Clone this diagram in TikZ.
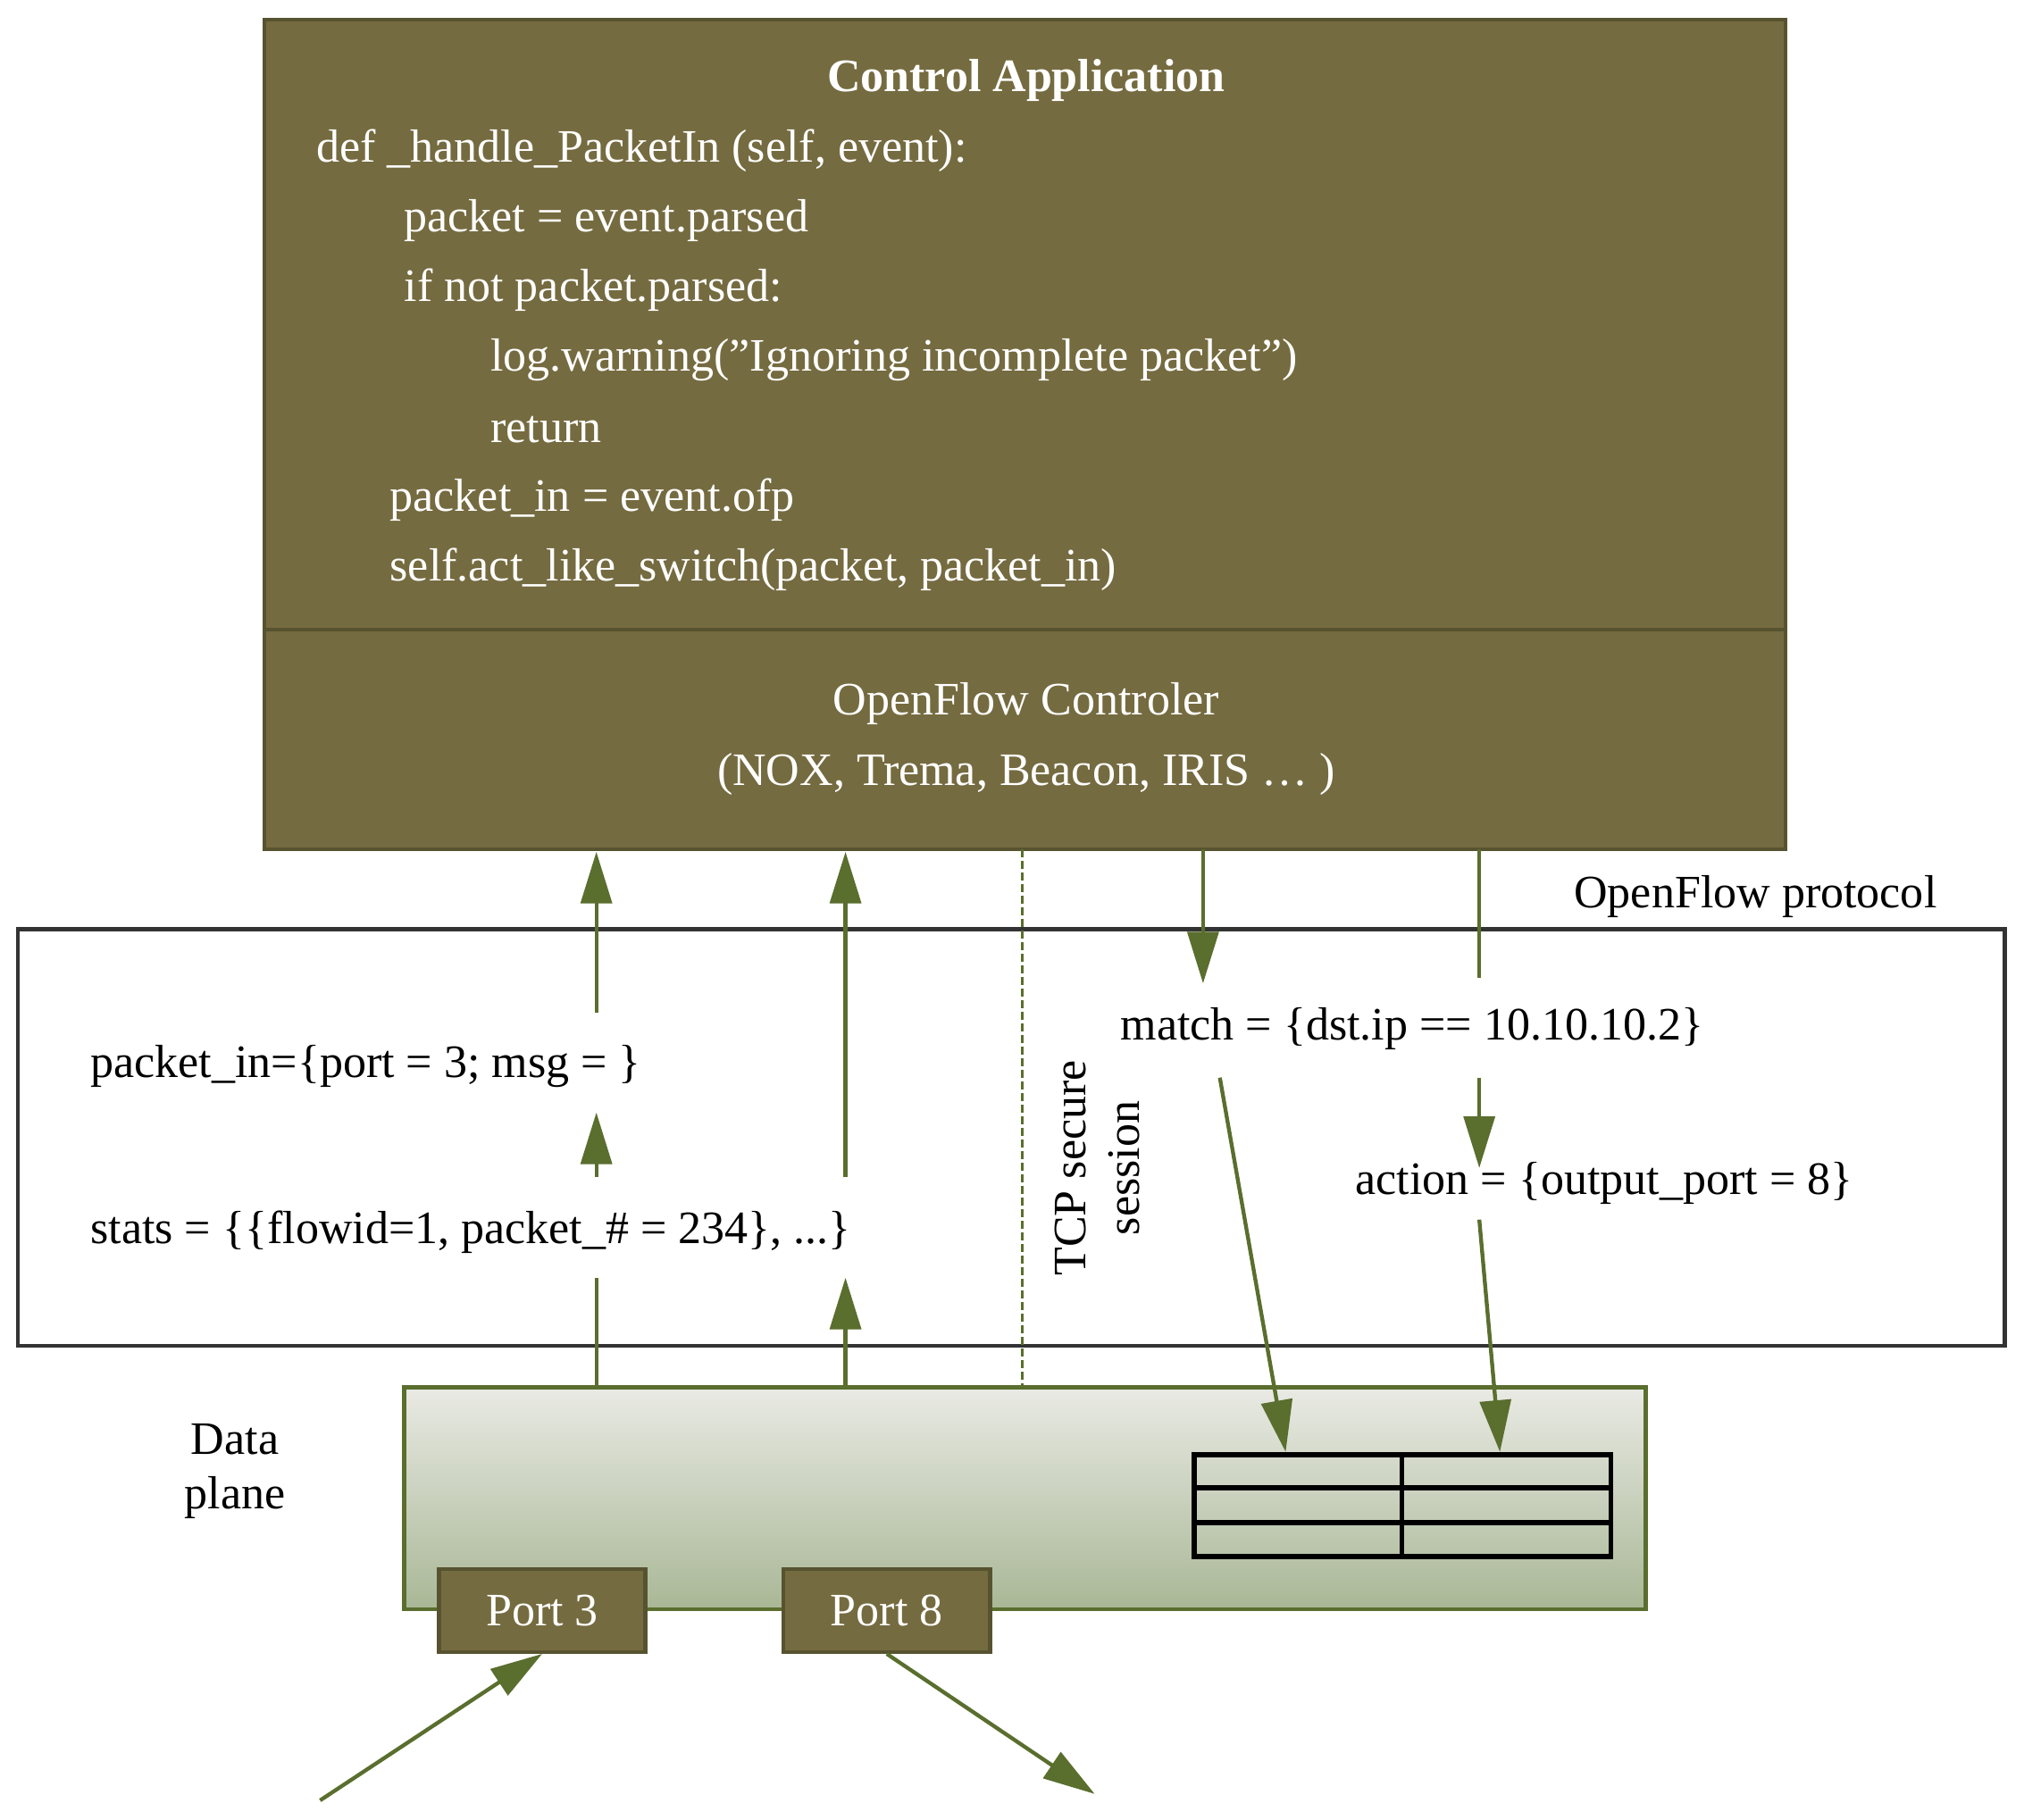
\documentclass[tikz,border=0pt]{standalone}
\usepackage{fontspec}
\setmainfont{Liberation Serif}
\usetikzlibrary{arrows.meta}
\definecolor{ctrl}{HTML}{756B40}
\definecolor{ctrlb}{HTML}{575330}
\definecolor{grn}{HTML}{5A6E2E}
\definecolor{dpTop}{HTML}{E9EAE4}
\definecolor{dpBot}{HTML}{A9B796}
\begin{document}
\begin{tikzpicture}[x=1pt,y=-1pt,
  txt/.style={font=\fontsize{36}{42}\selectfont,inner sep=0pt},
  wtxt/.style={txt,text=white},
  code/.style={wtxt,anchor=west},
  arr/.style={grn,line width=3pt,-{Triangle[length=40pt,width=24pt]}},
  ln/.style={grn,line width=3pt},
  port/.style={draw=ctrlb,fill=ctrl,line width=3pt,minimum width=160pt,minimum height=64pt,wtxt}]
\useasboundingbox (0,0) rectangle (1568,1410);
% control box
\draw[ctrlb,fill=ctrl,line width=3pt] (205,15) rectangle (1383,658);
\draw[ctrlb,line width=3pt] (205,488) -- (1383,488);
\node[wtxt,font=\fontsize{36}{42}\selectfont\bfseries] (title) at (795,62) {Control Application};
\node[code] (c1) at (245,117) {def \_handle\_PacketIn (self, event):};
\node[code] (c2) at (313,171) {packet = event.parsed};
\node[code] (c3) at (313,225) {if not packet.parsed:};
\node[code] (c4) at (380,279) {log.warning("Ignoring incomplete packet")};
\node[code] (c5) at (380,333) {return};
\node[code] (c6) at (302,387) {packet\_in = event.ofp};
\node[code] (c7) at (302,441) {self.act\_like\_switch(packet, packet\_in)};
\node[wtxt] (of1) at (795,545) {OpenFlow Controler};
\node[wtxt] (of2) at (795,600) {(NOX, Trema, Beacon, IRIS … )};
% protocol box
\draw[black!80,line width=3pt] (14,720) rectangle (1553,1043);
\node[txt] (proto) at (1360,695) {OpenFlow protocol};
\node[txt,anchor=west] (pin) at (70,826) {packet\_in=\{port = 3; msg = \}};
\node[txt,anchor=west] (stats) at (70,955) {stats = \{\{flowid=1, packet\_\# = 234\}, ...\}};
\node[txt,anchor=west] (match) at (868,797) {match = \{dst.ip == 10.10.10.2\}};
\node[txt,anchor=west] (action) at (1050,917) {action = \{output\_port = 8\}};
\node[txt,rotate=90,align=center] (tcp) at (850,905) {TCP secure\\session};
% data plane
\draw[grn,line width=3pt,top color=dpTop,bottom color=dpBot] (313,1075) rectangle (1275,1247);
\node[txt,align=center] (dp) at (182,1140) {Data\\plane};
\draw[black,line width=4pt] (925,1127) rectangle (1248,1206);
\draw[black,line width=4pt] (925,1153) -- (1248,1153) (925,1180) -- (1248,1180) (1086,1127) -- (1086,1206);
\node[port] (p3) at (420,1248) {Port 3};
\node[port] (p8) at (687,1248) {Port 8};
% coordinates
\coordinate (a0) at (462,1075); \coordinate (a1) at (462,990);
\coordinate (a2) at (462,912); \coordinate (a3) at (462,862);
\coordinate (a4) at (462,785); \coordinate (a5) at (462,660);
\coordinate (b0) at (655,1075); \coordinate (b1) at (655,990);
\coordinate (b2) at (655,912); \coordinate (b3) at (655,660);
\coordinate (d0) at (792,658); \coordinate (d1) at (792,1075);
\coordinate (e0) at (932,658); \coordinate (e1) at (932,762);
\coordinate (e2) at (945,835); \coordinate (e3) at (996,1125);
\coordinate (f0) at (1146,658); \coordinate (f1) at (1146,758);
\coordinate (f2) at (1146,835); \coordinate (f3) at (1146,905);
\coordinate (f4) at (1146,945); \coordinate (f5) at (1162,1125);
\coordinate (in0) at (248,1395); \coordinate (out1) at (848,1390);
\draw[ln] (a0) -- (a1);
\draw[arr] (a2) -- (a3);
\draw[arr] (a4) -- (a5);
\draw[arr] (b0) -- (b1);
\draw[arr] (b2) -- (b3);
\draw[grn,line width=2pt,dashed,dash pattern=on 6pt off 3pt] (d0) -- (d1);
\draw[arr] (e0) -- (e1);
\draw[arr] (e2) -- (e3);
\draw[ln] (f0) -- (f1);
\draw[arr] (f2) -- (f3);
\draw[arr] (f4) -- (f5);
\draw[arr] (in0) -- (p3.south);
\draw[arr] (p8.south) -- (out1);
\end{tikzpicture}
\end{document}
